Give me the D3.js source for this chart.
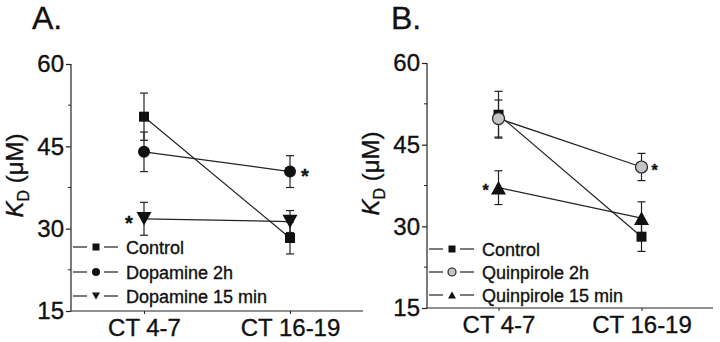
<!DOCTYPE html>
<html>
<head>
<meta charset="utf-8">
<script src="https://cdn.jsdelivr.net/npm/d3@7"></script>
<style>
  body { margin: 0; background: #fff; }
  text { font-family: "Liberation Sans", Arial, sans-serif; fill: #111; stroke: #111; stroke-width: 0.35px; }
</style>
</head>
<body>
<div id="chart"></div>
<script>
// Data
const conditions = ["CT 4-7", "CT 16-19"];
const yTicks = [15, 30, 45, 60];
const yMinor = [22.5, 37.5, 52.5];

// panel A
const seriesNamesA = ["Control", "Dopamine 2h", "Dopamine 15 min"];
const controlA = [50.4, 28.3];
const controlAErr = [4.3, 2.9];
const dopamine2h = [44.0, 40.4];
const dopamine2hErr = [3.6, 2.9];
const dopamine15 = [31.8, 31.3];
const dopamine15Err = [3.0, 2.0];
const starsA = [null, 1, 0];   // index of the point with a *

// panel B
const seriesNamesB = ["Control", "Quinpirole 2h", "Quinpirole 15 min"];
const controlB = [50.5, 28.1];
const controlBErr = [4.3, 2.7];
const quinpirole2h = [49.8, 40.9];
const quinpirole2hErr = [3.4, 2.5];
const quinpirole15 = [37.1, 31.5];
const quinpirole15Err = [3.1, 3.0];
const starsB = [null, 1, 0];

const svg = d3.select("#chart").append("svg")
    .attr("width", 720)
    .attr("height", 342);

function marker(g, shape, x, y, size, fill) {
    if (shape === "square") {
        g.append("rect")
            .attr("x", x - size / 2).attr("y", y - size / 2)
            .attr("width", size).attr("height", size)
            .attr("fill", "#111");
    } else if (shape === "circle") {
        g.append("circle")
            .attr("cx", x).attr("cy", y).attr("r", size / 2)
            .attr("fill", fill || "#111")
            .attr("stroke", "#222").attr("stroke-width", fill ? 1.2 : 0);
    } else {
        // triangles
        let h = size * 0.9, w = size;
        let pts = shape === "down"
            ? [[x - w / 2, y - h / 2], [x + w / 2, y - h / 2], [x, y + h / 2]]
            : [[x - w / 2, y + h / 2], [x + w / 2, y + h / 2], [x, y - h / 2]];
        g.append("path")
            .attr("d", d3.line()(pts) + "Z")
            .attr("fill", "#111");
    }
}

function drawPanel(cfg) {
    let x = d3.scaleLinear().domain([0.5, 2.5]).range([cfg.left, cfg.right]);
    let y = d3.scaleLinear().domain([15, 60]).range([cfg.bottom, cfg.top]);
    let g = svg.append("g");

    // title
    g.append("text")
        .attr("x", cfg.titleX).attr("y", 29)
        .attr("font-size", 32)
        .text(cfg.title);

    // y axis
    let yAxis = d3.axisLeft(y).tickValues(yTicks).tickSize(5).tickPadding(2).tickFormat(d3.format("d"));
    let ya = g.append("g").attr("transform", `translate(${cfg.left},0)`).call(yAxis);
    ya.select(".domain").attr("d", `M0,${cfg.bottom}V${cfg.top}`).attr("stroke", "#222").attr("stroke-width", 1.2);
    ya.selectAll(".tick line").attr("stroke", "#222").attr("stroke-width", 1.2);
    ya.selectAll(".tick text").attr("font-size", 24).attr("fill", "#111")
        .attr("font-family", '"Liberation Sans", Arial, sans-serif');
    g.selectAll(".minor").data(yMinor).enter().append("line")
        .attr("x1", cfg.left - 3).attr("x2", cfg.left)
        .attr("y1", d => y(d)).attr("y2", d => y(d))
        .attr("stroke", "#222").attr("stroke-width", 1);

    // x axis
    let xAxis = d3.axisBottom(x).tickValues([1, 2]).tickSize(3).tickPadding(5)
        .tickFormat((d, i) => conditions[i]);
    let xa = g.append("g").attr("transform", `translate(0,${cfg.bottom})`).call(xAxis);
    xa.select(".domain").attr("d", `M${cfg.left},0H${cfg.right}`).attr("stroke", "#222").attr("stroke-width", 1.2);
    xa.selectAll(".tick line").attr("stroke", "#222");
    xa.selectAll(".tick text").attr("font-size", 24).attr("fill", "#111")
        .attr("font-family", '"Liberation Sans", Arial, sans-serif');

    // y label
    let lab = g.append("text")
        .attr("transform", `translate(${cfg.left - 48},${(cfg.top + cfg.bottom) / 2 - 12}) rotate(-90)`)
        .attr("text-anchor", "middle")
        .attr("font-size", 24);
    lab.append("tspan").attr("font-style", "italic").text("K");
    lab.append("tspan").attr("font-size", 16).attr("dy", 6).text("D");
    lab.append("tspan").attr("dy", -6).text(" (\u03bcM)");

    // series
    cfg.series.forEach(function (s, si) {
        let pts = s.values.map((v, i) => [x(i + 1), y(v)]);
        g.append("path")
            .attr("d", d3.line()(pts))
            .attr("fill", "none").attr("stroke", "#222").attr("stroke-width", 1.2);
        s.values.forEach(function (v, i) {
            let cx = x(i + 1);
            g.append("line")
                .attr("x1", cx).attr("x2", cx)
                .attr("y1", y(v - s.err[i])).attr("y2", y(v + s.err[i]))
                .attr("stroke", "#222").attr("stroke-width", 1.2);
            [v - s.err[i], v + s.err[i]].forEach(function (e) {
                g.append("line")
                    .attr("x1", cx - 4).attr("x2", cx + 4)
                    .attr("y1", y(e)).attr("y2", y(e))
                    .attr("stroke", "#222").attr("stroke-width", 1.2);
            });
        });
    });
    cfg.series.forEach(function (s, si) {
        s.values.forEach(function (v, i) {
            marker(g, s.shape, x(i + 1), y(v), s.size, s.fill);
        });
        if (s.star !== null) {
            let i = s.star;
            let sx = x(i + 1) + (i === 0 ? -cfg.starOff : cfg.starOff);
            g.append("text")
                .attr("x", sx).attr("y", y(s.values[i]) + cfg.starSize * 0.55)
                .attr("text-anchor", "middle")
                .attr("font-size", cfg.starSize)
                .attr("font-weight", "bold")
                .text("*");
        }
    });

    // legend
    cfg.series.forEach(function (s, si) {
        let ly = cfg.legendY[si];
        g.append("line").attr("x1", cfg.left + 2).attr("x2", cfg.left + 16)
            .attr("y1", ly).attr("y2", ly).attr("stroke", "#222").attr("stroke-width", 1.2);
        g.append("line").attr("x1", cfg.left + 33).attr("x2", cfg.left + 47)
            .attr("y1", ly).attr("y2", ly).attr("stroke", "#222").attr("stroke-width", 1.2);
        marker(g, s.shape, cfg.left + 25, ly, s.shape === "square" ? 7 : 8, s.fill);
        g.append("text")
            .attr("x", cfg.left + 55).attr("y", ly + 6.5)
            .attr("font-size", 18)
            .text(s.name);
    });
}

drawPanel({
    title: "A.", titleX: 32,
    left: 71, right: 363, top: 64, bottom: 311,
    starOff: 15, starSize: 20,
    legendY: [247, 272, 296],
    series: [
        {name: seriesNamesA[0], values: controlA, err: controlAErr, shape: "square", size: 10, star: starsA[0]},
        {name: seriesNamesA[1], values: dopamine2h, err: dopamine2hErr, shape: "circle", size: 12, star: starsA[1]},
        {name: seriesNamesA[2], values: dopamine15, err: dopamine15Err, shape: "down", size: 15, star: starsA[2]}
    ]
});

drawPanel({
    title: "B.", titleX: 391,
    left: 427, right: 713, top: 63, bottom: 308,
    starOff: 13, starSize: 16,
    legendY: [249, 272, 295],
    series: [
        {name: seriesNamesB[0], values: controlB, err: controlBErr, shape: "square", size: 10, star: starsB[0]},
        {name: seriesNamesB[1], values: quinpirole2h, err: quinpirole2hErr, shape: "circle", size: 12, fill: "#c4c4c4", star: starsB[1]},
        {name: seriesNamesB[2], values: quinpirole15, err: quinpirole15Err, shape: "up", size: 15, star: starsB[2]}
    ]
});
</script>
</body>
</html>
